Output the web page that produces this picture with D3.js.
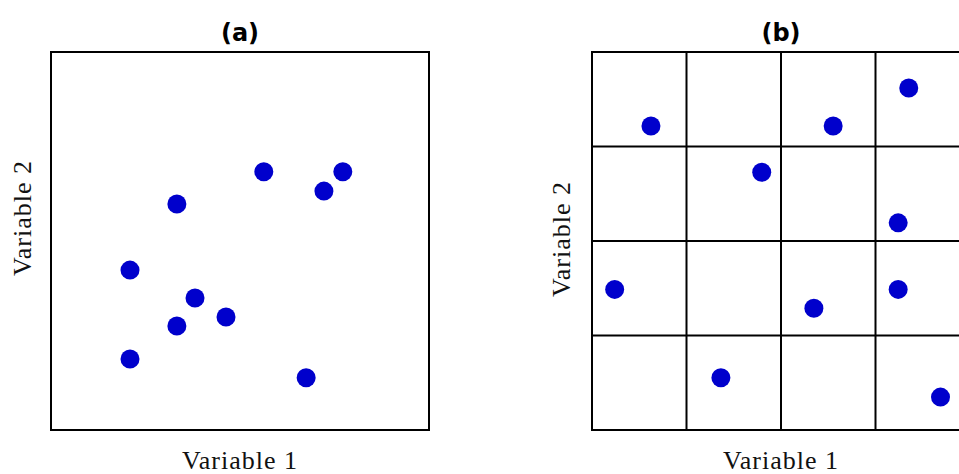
<!DOCTYPE html>
<html>
<head>
<meta charset="utf-8">
<script src="https://cdn.jsdelivr.net/npm/d3@7"></script>
<style>
  html, body { margin: 0; padding: 0; background: #fff; }
  svg { display: block; }
</style>
</head>
<body>
<svg id="chart" width="959" height="474"></svg>
<script>
// ---- data (unit square coordinates) ----
const panelTitles = ["(a)", "(b)"];
const xLabel = "Variable 1";
const yLabel = "Variable 2";

const aX = [0.563, 0.772, 0.722, 0.333, 0.209, 0.381, 0.333, 0.463, 0.209, 0.675];
const aY = [0.683, 0.683, 0.632, 0.598, 0.423, 0.349, 0.275, 0.299, 0.188, 0.138];

const bX = [0.156, 0.638, 0.838, 0.449, 0.810, 0.060, 0.587, 0.810, 0.341, 0.922];
const bY = [0.804, 0.804, 0.905, 0.682, 0.548, 0.372, 0.322, 0.372, 0.138, 0.087];

const gridTicks = [0.25, 0.5, 0.75];

// ---- layout ----
const svg = d3.select("#chart");
const size = 378;
const topY = 52;
const panels = [
  { left: 51, xs: aX, ys: aY, grid: false, ylabY: 218, ylabX: 31 },
  { left: 592, xs: bX, ys: bY, grid: true, ylabY: 239, ylabX: 570 }
];
const dotColor = "#0000cc";

panels.forEach((p, i) => {
  const x = d3.scaleLinear().domain([0, 1]).range([p.left, p.left + size]);
  const y = d3.scaleLinear().domain([0, 1]).range([topY + size, topY]);
  const g = svg.append("g");

  if (p.grid) {
    g.selectAll("line.v").data(gridTicks).join("line")
      .attr("class", "v")
      .attr("x1", d => x(d)).attr("x2", d => x(d))
      .attr("y1", y(0)).attr("y2", y(1))
      .attr("stroke", "#000").attr("stroke-width", 2);
    g.selectAll("line.h").data(gridTicks).join("line")
      .attr("class", "h")
      .attr("x1", x(0)).attr("x2", x(1))
      .attr("y1", d => y(d)).attr("y2", d => y(d))
      .attr("stroke", "#000").attr("stroke-width", 2);
  }

  g.append("rect")
    .attr("x", x(0)).attr("y", y(1))
    .attr("width", x(1) - x(0)).attr("height", y(0) - y(1))
    .attr("fill", "none").attr("stroke", "#000").attr("stroke-width", 2);

  const pts = p.xs.map((v, k) => [v, p.ys[k]]);
  g.selectAll("circle").data(pts).join("circle")
    .attr("cx", d => x(d[0])).attr("cy", d => y(d[1]))
    .attr("r", 9.5).attr("fill", dotColor);

  const cx = p.left + size / 2;
  g.append("text")
    .attr("x", cx).attr("y", 41)
    .attr("text-anchor", "middle")
    .attr("font-family", "DejaVu Sans")
    .attr("font-weight", "bold")
    .attr("font-size", 24)
    .text(panelTitles[i]);

  g.append("text")
    .attr("x", cx).attr("y", 469)
    .attr("text-anchor", "middle")
    .attr("font-family", "Liberation Serif")
    .attr("font-size", 26)
    .attr("letter-spacing", 1)
    .attr("fill", "#111")
    .text(xLabel);

  g.append("text")
    .attr("transform", `translate(${p.ylabX},${p.ylabY}) rotate(-90)`)
    .attr("text-anchor", "middle")
    .attr("font-family", "Liberation Serif")
    .attr("font-size", 26)
    .attr("letter-spacing", 1)
    .attr("fill", "#111")
    .text(yLabel);
});
</script>
</body>
</html>
